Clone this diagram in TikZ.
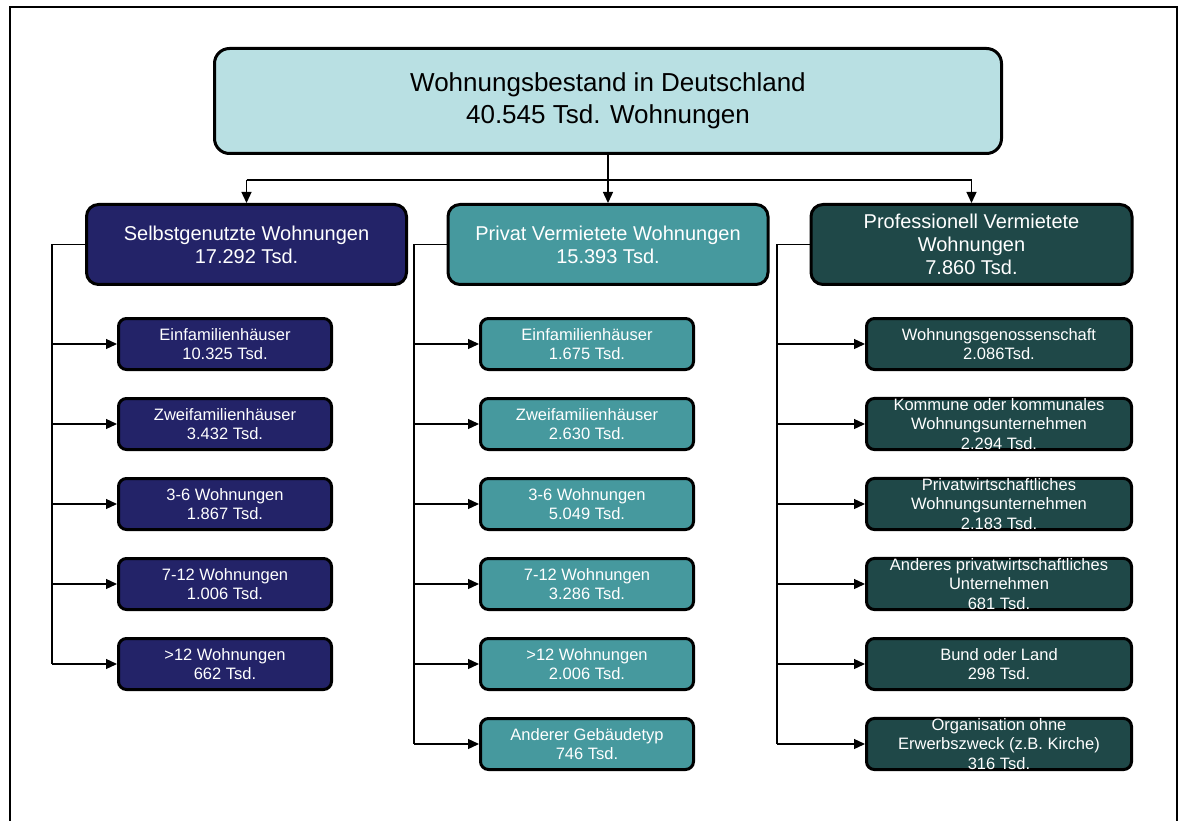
\documentclass[tikz,border=0pt]{standalone}
\usepackage{fontspec}
\setmainfont{Liberation Sans}
\usetikzlibrary{arrows.meta}
\definecolor{topfill}{HTML}{B9E0E3}
\definecolor{selbstfill}{HTML}{232368}
\definecolor{privatfill}{HTML}{46999E}
\definecolor{profifill}{HTML}{1F4848}
\tikzset{
    topbox/.style={draw=black, line width=3pt, rounded corners=15pt, fill=topfill, minimum width=787pt, minimum height=105pt, align=center, inner sep=0pt, font=\fontsize{26}{32}\selectfont},
    headbox/.style={draw=black, line width=3pt, rounded corners=12pt, text=white, minimum width=320pt, minimum height=80pt, align=center, inner sep=0pt, font=\fontsize{20}{23}\selectfont},
    kidbox/.style={draw=black, line width=3pt, rounded corners=8pt, text=white, minimum width=213pt, minimum height=51pt, align=center, inner sep=0pt, font=\fontsize{16.5}{19.5}\selectfont},
    link/.style={line width=1.3pt},
    arr/.style={link, -{Triangle[length=11pt, width=10pt]}}
}
\begin{document}
\begin{tikzpicture}[x=1pt, y=-1pt]
    \useasboundingbox (0,0) rectangle (1184,821);
    \draw[line width=2pt] (10,821) -- (10,7) -- (1177,7) -- (1177,821);
    % top
    \node[topbox] (top) at (608,101) {\raisebox{-3pt}{\parbox{780pt}{\centering Wohnungsbestand in Deutschland\\40.545 Tsd. Wohnungen}}};
    % main groups
    \node[headbox, fill=selbstfill] (selbst) at (246.5,244.5) {Selbstgenutzte Wohnungen\\17.292 Tsd.};
    \node[headbox, fill=privatfill] (privat) at (608,244.5) {Privat Vermietete Wohnungen\\15.393 Tsd.};
    \node[headbox, fill=profifill, minimum width=321pt] (profi) at (971.5,244.5) {Professionell Vermietete\\Wohnungen\\7.860 Tsd.};
    \coordinate (bus) at (608,180);
    \draw[link] (top.south) -- (bus);
    \draw[link] (selbst.north |- bus) -- (profi.north |- bus);
    \draw[arr] (selbst.north |- bus) -- (selbst.north);
    \draw[arr] (bus) -- (privat.north);
    \draw[arr] (profi.north |- bus) -- (profi.north);
    % selbstgenutzt
    \node[kidbox, fill=selbstfill] (selbst1) at (225,344) {Einfamilienhäuser\\10.325 Tsd.};
    \node[kidbox, fill=selbstfill] (selbst2) at (225,424) {Zweifamilienhäuser\\3.432 Tsd.};
    \node[kidbox, fill=selbstfill] (selbst3) at (225,504) {3-6 Wohnungen\\1.867 Tsd.};
    \node[kidbox, fill=selbstfill] (selbst4) at (225,584) {7-12 Wohnungen\\1.006 Tsd.};
    \node[kidbox, fill=selbstfill] (selbst5) at (225,664) {>12 Wohnungen\\662 Tsd.};
    \coordinate (trunk1) at (52,244.5);
    \draw[link] (selbst.west) -- (trunk1) -- (trunk1 |- selbst5.west);
    \draw[arr] (trunk1 |- selbst1.west) -- (selbst1.west);
    \draw[arr] (trunk1 |- selbst2.west) -- (selbst2.west);
    \draw[arr] (trunk1 |- selbst3.west) -- (selbst3.west);
    \draw[arr] (trunk1 |- selbst4.west) -- (selbst4.west);
    \draw[arr] (trunk1 |- selbst5.west) -- (selbst5.west);
    % privat vermietet
    \node[kidbox, fill=privatfill] (privat1) at (587,344) {Einfamilienhäuser\\1.675 Tsd.};
    \node[kidbox, fill=privatfill] (privat2) at (587,424) {Zweifamilienhäuser\\2.630 Tsd.};
    \node[kidbox, fill=privatfill] (privat3) at (587,504) {3-6 Wohnungen\\5.049 Tsd.};
    \node[kidbox, fill=privatfill] (privat4) at (587,584) {7-12 Wohnungen\\3.286 Tsd.};
    \node[kidbox, fill=privatfill] (privat5) at (587,664) {>12 Wohnungen\\2.006 Tsd.};
    \node[kidbox, fill=privatfill] (privat6) at (587,744) {Anderer Gebäudetyp\\746 Tsd.};
    \coordinate (trunk2) at (414,244.5);
    \draw[link] (privat.west) -- (trunk2) -- (trunk2 |- privat6.west);
    \draw[arr] (trunk2 |- privat1.west) -- (privat1.west);
    \draw[arr] (trunk2 |- privat2.west) -- (privat2.west);
    \draw[arr] (trunk2 |- privat3.west) -- (privat3.west);
    \draw[arr] (trunk2 |- privat4.west) -- (privat4.west);
    \draw[arr] (trunk2 |- privat5.west) -- (privat5.west);
    \draw[arr] (trunk2 |- privat6.west) -- (privat6.west);
    % professionell vermietet
    \node[kidbox, fill=profifill, minimum width=265pt] (profi1) at (999,344) {Wohnungsgenossenschaft\\2.086Tsd.};
    \node[kidbox, fill=profifill, minimum width=265pt] (profi2) at (999,424) {Kommune oder kommunales\\Wohnungsunternehmen\\2.294 Tsd.};
    \node[kidbox, fill=profifill, minimum width=265pt] (profi3) at (999,504) {Privatwirtschaftliches\\Wohnungsunternehmen\\2.183 Tsd.};
    \node[kidbox, fill=profifill, minimum width=265pt] (profi4) at (999,584) {Anderes privatwirtschaftliches\\Unternehmen\\681 Tsd.};
    \node[kidbox, fill=profifill, minimum width=265pt] (profi5) at (999,664) {Bund oder Land\\298 Tsd.};
    \node[kidbox, fill=profifill, minimum width=265pt] (profi6) at (999,744) {Organisation ohne\\Erwerbszweck (z.B. Kirche)\\316 Tsd.};
    \coordinate (trunk3) at (777,244.5);
    \draw[link] (profi.west) -- (trunk3) -- (trunk3 |- profi6.west);
    \draw[arr] (trunk3 |- profi1.west) -- (profi1.west);
    \draw[arr] (trunk3 |- profi2.west) -- (profi2.west);
    \draw[arr] (trunk3 |- profi3.west) -- (profi3.west);
    \draw[arr] (trunk3 |- profi4.west) -- (profi4.west);
    \draw[arr] (trunk3 |- profi5.west) -- (profi5.west);
    \draw[arr] (trunk3 |- profi6.west) -- (profi6.west);
\end{tikzpicture}
\end{document}
